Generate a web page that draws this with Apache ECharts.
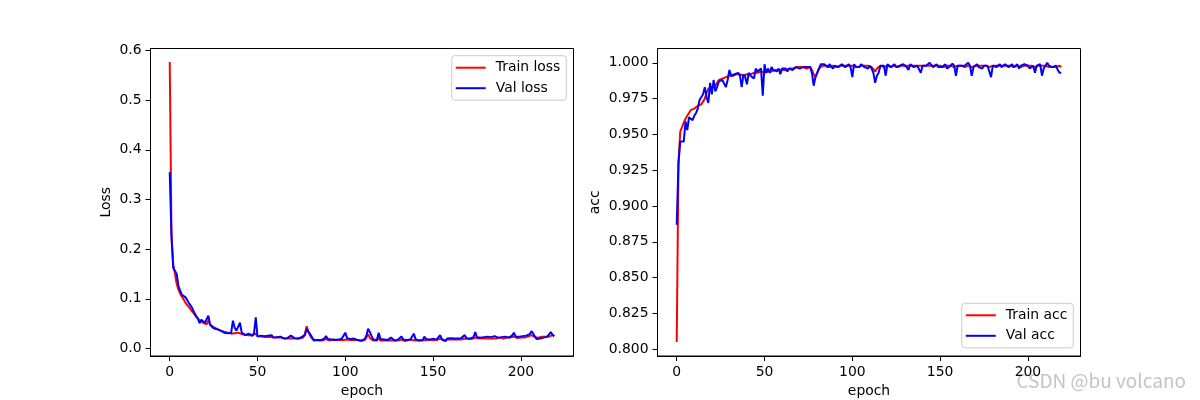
<!DOCTYPE html>
<html>
<head>
<meta charset="utf-8">
<script src="https://cdn.jsdelivr.net/npm/echarts@6/dist/echarts.min.js"></script>
<style>
html,body{margin:0;padding:0;background:#fff;}
#c{width:1200px;height:400px;}
</style>
</head>
<body>
<div id="c"></div>
<script>
const xTicks = [0, 50, 100, 150, 200];
const lossTicks = [0, 0.1, 0.2, 0.3, 0.4, 0.5, 0.6];
const accTicks = [0.8, 0.825, 0.85, 0.875, 0.9, 0.925, 0.95, 0.975, 1.0];

const trainLoss = [
0.577,0.230,0.170,0.150,0.130,0.118,0.110,0.104,0.098,0.092,
0.088,0.083,0.079,0.074,0.069,0.064,0.060,0.057,0.055,0.052,
0.050,0.049,0.056,0.048,0.045,0.043,0.041,0.039,0.037,0.036,
0.035,0.034,0.033,0.032,0.031,0.030,0.033,0.031,0.030,0.032,
0.030,0.029,0.028,0.028,0.027,0.027,0.026,0.026,0.027,0.030,
0.025,0.025,0.024,0.024,0.023,0.024,0.023,0.022,0.023,0.022,
0.022,0.021,0.022,0.021,0.022,0.021,0.020,0.021,0.020,0.021,
0.020,0.021,0.020,0.019,0.020,0.021,0.022,0.030,0.045,0.033,
0.026,0.020,0.017,0.017,0.018,0.016,0.017,0.016,0.017,0.019,
0.017,0.016,0.017,0.018,0.016,0.017,0.016,0.017,0.018,0.017,
0.021,0.018,0.016,0.017,0.016,0.017,0.016,0.017,0.016,0.015,
0.016,0.017,0.022,0.029,0.021,0.017,0.016,0.017,0.016,0.021,
0.016,0.015,0.016,0.017,0.016,0.015,0.016,0.017,0.016,0.015,
0.016,0.017,0.018,0.016,0.015,0.016,0.017,0.016,0.017,0.019,
0.016,0.017,0.016,0.017,0.016,0.018,0.017,0.016,0.017,0.016,
0.017,0.018,0.017,0.018,0.020,0.017,0.016,0.017,0.018,0.017,
0.018,0.017,0.018,0.019,0.018,0.017,0.018,0.019,0.020,0.018,
0.019,0.018,0.019,0.020,0.022,0.019,0.020,0.019,0.020,0.021,
0.020,0.019,0.020,0.021,0.020,0.021,0.020,0.021,0.022,0.021,
0.020,0.021,0.022,0.021,0.022,0.023,0.024,0.022,0.021,0.022,
0.022,0.023,0.022,0.023,0.024,0.025,0.027,0.024,0.023,0.021,
0.022,0.023,0.024,0.023,0.024,0.025,0.024,0.026,0.027,0.025
];
const valLoss = [
0.355,0.225,0.162,0.156,0.150,0.125,0.116,0.108,0.106,0.103,
0.097,0.091,0.086,0.080,0.072,0.066,0.060,0.051,0.058,0.054,
0.052,0.050,0.066,0.048,0.045,0.041,0.040,0.039,0.041,0.036,
0.037,0.032,0.033,0.031,0.030,0.032,0.056,0.042,0.036,0.038,
0.052,0.032,0.031,0.027,0.029,0.030,0.027,0.026,0.031,0.063,
0.024,0.028,0.026,0.028,0.025,0.023,0.026,0.022,0.027,0.022,
0.025,0.023,0.021,0.024,0.022,0.020,0.023,0.021,0.022,0.026,
0.022,0.021,0.024,0.020,0.022,0.023,0.021,0.027,0.040,0.034,
0.031,0.023,0.016,0.018,0.017,0.019,0.017,0.018,0.020,0.025,
0.019,0.017,0.018,0.020,0.017,0.019,0.018,0.017,0.020,0.019,
0.032,0.021,0.018,0.019,0.017,0.020,0.018,0.017,0.018,0.016,
0.018,0.019,0.026,0.040,0.033,0.025,0.018,0.019,0.017,0.032,
0.019,0.016,0.018,0.020,0.017,0.018,0.022,0.018,0.016,0.017,
0.018,0.020,0.024,0.018,0.016,0.017,0.019,0.018,0.020,0.030,
0.019,0.018,0.016,0.019,0.017,0.024,0.019,0.017,0.018,0.016,
0.020,0.019,0.018,0.022,0.027,0.019,0.017,0.015,0.020,0.018,
0.021,0.019,0.020,0.024,0.020,0.018,0.021,0.022,0.027,0.021,
0.022,0.020,0.024,0.023,0.033,0.022,0.025,0.022,0.024,0.023,
0.022,0.024,0.021,0.023,0.022,0.025,0.023,0.022,0.024,0.023,
0.022,0.024,0.023,0.022,0.024,0.026,0.032,0.024,0.023,0.024,
0.023,0.025,0.024,0.026,0.028,0.029,0.035,0.030,0.024,0.019,
0.021,0.020,0.023,0.022,0.025,0.024,0.026,0.033,0.028,0.025
];
const trainAcc = [
0.805,0.930,0.952,0.953,0.958,0.961,0.963,0.965,0.967,0.966,
0.968,0.969,0.970,0.971,0.971,0.972,0.975,0.979,0.982,0.983,
0.983,0.983,0.984,0.986,0.988,0.989,0.989,0.990,0.990,0.991,
0.991,0.992,0.991,0.992,0.992,0.991,0.992,0.992,0.991,0.992,
0.992,0.993,0.992,0.993,0.993,0.994,0.993,0.993,0.994,0.993,
0.993,0.994,0.994,0.995,0.994,0.995,0.995,0.994,0.995,0.995,
0.995,0.996,0.995,0.996,0.996,0.995,0.996,0.996,0.997,0.996,
0.997,0.996,0.997,0.997,0.996,0.997,0.997,0.995,0.992,0.990,
0.993,0.996,0.997,0.998,0.997,0.998,0.998,0.997,0.998,0.998,
0.998,0.997,0.998,0.998,0.997,0.998,0.998,0.998,0.997,0.998,
0.997,0.998,0.998,0.997,0.998,0.998,0.997,0.998,0.998,0.998,
0.998,0.997,0.996,0.994,0.996,0.997,0.998,0.998,0.997,0.997,
0.998,0.998,0.997,0.998,0.998,0.998,0.997,0.998,0.998,0.998,
0.998,0.997,0.998,0.998,0.998,0.997,0.998,0.998,0.998,0.997,
0.998,0.998,0.998,0.999,0.998,0.998,0.998,0.997,0.998,0.998,
0.998,0.998,0.997,0.998,0.998,0.998,0.998,0.998,0.997,0.998,
0.998,0.998,0.998,0.998,0.997,0.998,0.998,0.998,0.997,0.998,
0.998,0.998,0.998,0.997,0.998,0.998,0.998,0.998,0.997,0.998,
0.998,0.998,0.998,0.997,0.998,0.998,0.998,0.998,0.998,0.997,
0.998,0.998,0.997,0.998,0.998,0.998,0.997,0.998,0.998,0.998,
0.998,0.997,0.998,0.998,0.997,0.998,0.998,0.997,0.998,0.998,
0.998,0.998,0.997,0.998,0.997,0.998,0.997,0.997,0.998,0.997
];
const valAcc = [
0.887,0.930,0.945,0.946,0.945,0.959,0.953,0.962,0.961,0.960,
0.963,0.965,0.968,0.974,0.975,0.978,0.983,0.976,0.972,0.986,
0.978,0.988,0.980,0.983,0.987,0.986,0.988,0.988,0.983,0.988,
0.995,0.991,0.991,0.992,0.991,0.993,0.991,0.983,0.992,0.990,
0.985,0.993,0.991,0.992,0.989,0.996,0.994,0.993,0.996,0.977,
0.999,0.993,0.996,0.993,0.997,0.995,0.996,0.994,0.996,0.992,
0.996,0.997,0.996,0.994,0.996,0.997,0.995,0.996,0.997,0.998,
0.996,0.997,0.997,0.996,0.997,0.996,0.997,0.993,0.984,0.990,
0.991,0.996,0.999,0.998,0.999,0.998,0.997,0.999,0.998,0.996,
0.998,0.999,0.997,0.998,0.999,0.998,0.997,0.998,0.999,0.997,
0.990,0.999,0.997,0.998,0.997,0.999,0.998,0.997,0.998,0.996,
0.998,0.996,0.993,0.986,0.991,0.993,0.998,0.997,0.998,0.991,
0.999,0.998,0.997,0.998,0.999,0.997,0.996,0.998,0.999,0.999,
0.998,0.997,0.995,0.999,0.998,0.997,0.996,0.998,0.998,0.993,
0.998,0.999,0.998,0.999,1.000,0.999,0.997,0.998,0.999,0.997,
0.998,0.997,0.998,0.999,0.996,0.997,0.998,0.9995,0.998,0.991,
0.998,0.999,0.998,0.997,0.998,0.999,1.000,0.998,0.991,0.997,
0.998,0.999,0.997,0.998,0.996,0.998,0.999,0.998,0.997,0.990,
0.998,0.999,0.997,0.998,0.999,0.997,0.998,0.999,0.998,0.997,
0.998,0.999,0.997,0.998,0.999,0.996,0.998,0.998,0.999,0.998,
0.998,0.996,0.997,0.998,0.993,0.998,0.997,0.999,0.991,0.996,
0.998,1.000,0.998,0.997,0.997,0.996,0.998,0.995,0.993,0.993
];
const epochs = trainLoss.map((_, i) => i);

const FONT = 'DejaVu Sans';
const FS = 13.9;
const pair = (arr) => epochs.map((e, i) => [e, arr[i]]);

function xAxisCfg(gridIndex) {
  return {
    type: 'value', gridIndex, min: -10.95, max: 229.95,
    name: 'epoch', nameLocation: 'middle', nameGap: 28,
    nameTextStyle: { color: '#000', fontFamily: FONT, fontSize: FS },
    axisLine: { show: true, onZero: false, lineStyle: { color: '#000', width: 1 } },
    axisTick: { show: true, length: 5, customValues: xTicks, lineStyle: { color: '#000', width: 1 } },
    axisLabel: { customValues: xTicks, margin: 9, color: '#000', fontFamily: FONT, fontSize: FS },
    splitLine: { show: false }
  };
}
function yAxisCfg(gridIndex, name, min, max, ticks, digits, gap) {
  return {
    type: 'value', gridIndex, min, max,
    name, nameLocation: 'middle', nameGap: gap, nameRotate: 90,
    nameTextStyle: { color: '#000', fontFamily: FONT, fontSize: FS },
    axisLine: { show: true, onZero: false, lineStyle: { color: '#000', width: 1 } },
    axisTick: { show: true, length: 5, customValues: ticks, lineStyle: { color: '#000', width: 1 } },
    axisLabel: { customValues: ticks, margin: 9, color: '#000', fontFamily: FONT, fontSize: FS,
      formatter: (v) => v.toFixed(digits) },
    splitLine: { show: false }
  };
}
const legendBase = {
  orient: 'vertical', icon: 'rect', itemWidth: 30, itemHeight: 2, itemGap: 6.5,
  backgroundColor: 'rgba(255,255,255,0.8)', borderColor: '#cccccc', borderWidth: 1, borderRadius: 3,
  padding: [5, 6, 5, 4],
  textStyle: { color: '#000', fontFamily: FONT, fontSize: FS, lineHeight: 14, padding: [0, 0, 0, 5] }
};

const chart = echarts.init(document.getElementById('c'), null, { renderer: 'canvas' });
chart.setOption({
  animation: false,
  backgroundColor: '#fff',
  grid: [
    { left: 150.5, top: 48.5, width: 423, height: 307.5, show: true, borderColor: '#000', borderWidth: 1, backgroundColor: 'transparent', containLabel: false, outerBoundsMode: 'none' },
    { left: 657.5, top: 48.5, width: 423, height: 307.5, show: true, borderColor: '#000', borderWidth: 1, backgroundColor: 'transparent', containLabel: false, outerBoundsMode: 'none' }
  ],
  xAxis: [xAxisCfg(0), xAxisCfg(1)],
  yAxis: [
    yAxisCfg(0, 'Loss', -0.015, 0.604, lossTicks, 1, 37),
    yAxisCfg(1, 'acc', 0.7953, 1.0100, accTicks, 3, 55)
  ],
  legend: [
    Object.assign({}, legendBase, { data: ['Train loss', 'Val loss'], right: 633.7, top: 55.7 }),
    Object.assign({}, legendBase, { data: ['Train acc', 'Val acc'], right: 126.7, top: 303.3 })
  ],
  graphic: [{
    type: 'text', right: 14, top: 371,
    style: { text: 'CSDN @bu volcano', fill: '#c4c4c4', font: '19px "Noto Sans CJK SC", "DejaVu Sans", sans-serif' }
  }],
  series: [
    { name: 'Train loss', type: 'line', xAxisIndex: 0, yAxisIndex: 0, data: pair(trainLoss), showSymbol: false, symbol: 'none', lineStyle: { color: '#ff0000', width: 2 }, itemStyle: { color: '#ff0000' } },
    { name: 'Val loss', type: 'line', xAxisIndex: 0, yAxisIndex: 0, data: pair(valLoss), showSymbol: false, symbol: 'none', lineStyle: { color: '#0000ff', width: 2 }, itemStyle: { color: '#0000ff' } },
    { name: 'Train acc', type: 'line', xAxisIndex: 1, yAxisIndex: 1, data: pair(trainAcc), showSymbol: false, symbol: 'none', lineStyle: { color: '#ff0000', width: 2 }, itemStyle: { color: '#ff0000' } },
    { name: 'Val acc', type: 'line', xAxisIndex: 1, yAxisIndex: 1, data: pair(valAcc), showSymbol: false, symbol: 'none', lineStyle: { color: '#0000ff', width: 2 }, itemStyle: { color: '#0000ff' } }
  ]
});
</script>
</body>
</html>
